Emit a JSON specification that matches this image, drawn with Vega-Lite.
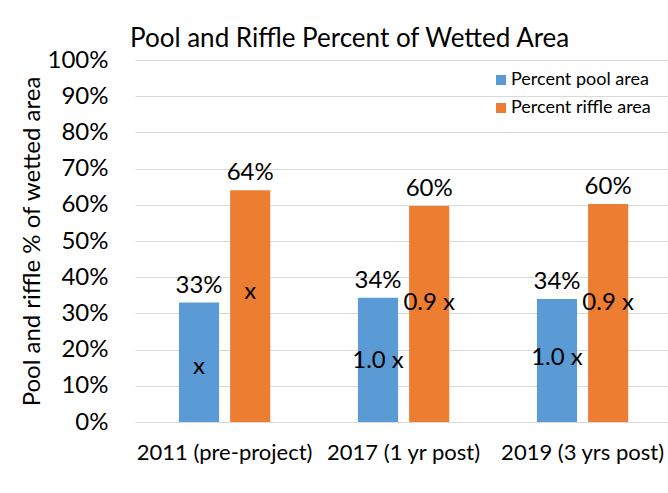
{
  "$schema": "https://vega.github.io/schema/vega-lite/v6.json",
  "width": 533,
  "height": 362,
  "autosize": {"type": "none"},
  "padding": {"left": 135, "top": 60, "right": 0, "bottom": 71},
  "background": "white",
  "title": {"text": "Pool and Riffle Percent of Wetted Area", "anchor": "start", "frame": "group", "dx": -5, "fontSize": 26, "font": "Lato", "fontWeight": "normal", "color": "#000000", "offset": -4},
  "datasets": {
    "bars": [
      {"period": "2011 (pre-project)", "series": "Percent pool area", "value": 0.33},
      {"period": "2011 (pre-project)", "series": "Percent riffle area", "value": 0.64},
      {"period": "2017 (1 yr post)", "series": "Percent pool area", "value": 0.343},
      {"period": "2017 (1 yr post)", "series": "Percent riffle area", "value": 0.597},
      {"period": "2019 (3 yrs post)", "series": "Percent pool area", "value": 0.34},
      {"period": "2019 (3 yrs post)", "series": "Percent riffle area", "value": 0.602}
    ],
    "notes": [
      {"period": "2011 (pre-project)", "series": "Percent pool area", "value": 0.152, "note": "x"},
      {"period": "2011 (pre-project)", "series": "Percent riffle area", "value": 0.36, "note": "x"},
      {"period": "2017 (1 yr post)", "series": "Percent pool area", "value": 0.168, "note": "1.0 x"},
      {"period": "2017 (1 yr post)", "series": "Percent riffle area", "value": 0.33, "note": "0.9 x"},
      {"period": "2019 (3 yrs post)", "series": "Percent pool area", "value": 0.177, "note": "1.0 x"},
      {"period": "2019 (3 yrs post)", "series": "Percent riffle area", "value": 0.33, "note": "0.9 x"}
    ]
  },
  "encoding": {
    "x": {
      "field": "period", "type": "nominal", "sort": null,
      "scale": {"paddingInner": 0.49, "paddingOuter": 0.234, "align": 0.525},
      "axis": {"title": null, "labelAngle": 0, "labelFontSize": 22, "labelColor": "#000000", "labelPadding": 20, "ticks": false, "domainColor": "#D9D9D9", "domainWidth": 1, "labelOverlap": false}
    },
    "xOffset": {"field": "series", "type": "nominal", "sort": null, "scale": {"paddingInner": 0.216, "paddingOuter": 0}},
    "y": {
      "field": "value", "type": "quantitative",
      "scale": {"domain": [0, 1], "nice": false},
      "axis": {"title": "Pool and riffle % of wetted area", "format": ".0%", "values": [0, 0.1, 0.2, 0.3, 0.4, 0.5, 0.6, 0.7, 0.8, 0.9, 1], "labelOverlap": false, "grid": true, "gridColor": "#D9D9D9", "domain": false, "ticks": false, "labelFontSize": 24, "labelColor": "#000000", "labelPadding": 27, "titleFontSize": 24, "titleFontWeight": "normal", "titleColor": "#000000", "titlePadding": 3}
    }
  },
  "layer": [
    {
      "data": {"name": "bars"},
      "mark": {"type": "bar"},
      "encoding": {
        "color": {
          "field": "series", "type": "nominal",
          "scale": {"domain": ["Percent pool area", "Percent riffle area"], "range": ["#5B9BD5", "#ED7D31"]},
          "legend": {"title": null, "orient": "none", "legendX": 357, "legendY": 11, "symbolType": "square", "symbolSize": 100, "symbolStrokeWidth": 0, "labelFontSize": 18, "labelColor": "#000000", "rowPadding": 10, "labelOffset": 1}
        }
      }
    },
    {
      "data": {"name": "bars"},
      "mark": {"type": "text", "baseline": "bottom", "dy": -5, "fontSize": 24, "color": "#000000"},
      "encoding": {
        "text": {"field": "value", "type": "quantitative", "format": ".0%"}
      }
    },
    {
      "data": {"name": "notes"},
      "mark": {"type": "text", "baseline": "middle", "fontSize": 24, "color": "#000000"},
      "encoding": {
        "text": {"field": "note", "type": "nominal"}
      }
    }
  ],
  "config": {"font": "Lato", "view": {"stroke": null}}
}
